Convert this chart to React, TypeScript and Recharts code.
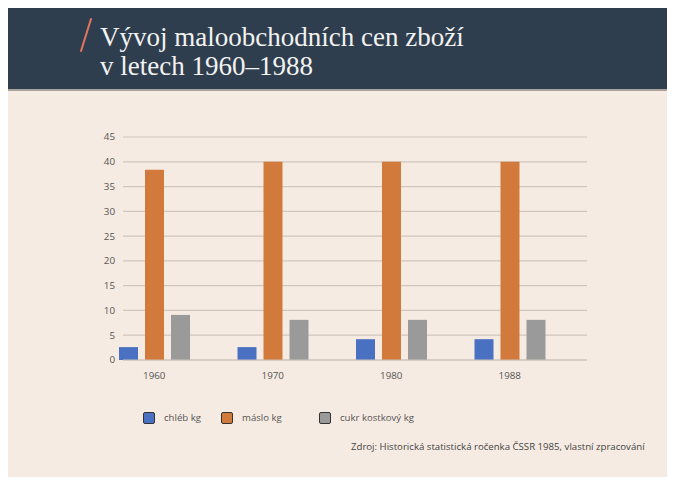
import React from 'react';
import { BarChart, Bar, XAxis, YAxis, CartesianGrid } from 'recharts';

const years = ['1960', '1970', '1980', '1988'];
const chleb = [2.6, 2.6, 4.2, 4.2];
const maslo = [38.4, 40, 40, 40];
const cukr = [9.1, 8.1, 8.1, 8.1];
const yTicks = [0, 5, 10, 15, 20, 25, 30, 35, 40, 45];

const seriesKeys = ['chleb', 'maslo', 'cukr'];
const seriesNames = ['chléb kg', 'máslo kg', 'cukr kostkový kg'];
const seriesColors = ['#4a70c2', '#d27a3c', '#9a9a9a'];

const data = years.map((y, i) => ({ year: y, chleb: chleb[i], maslo: maslo[i], cukr: cukr[i] }));

const titleLine1 = 'Vývoj maloobchodních cen zboží';
const titleLine2 = 'v letech 1960–1988';
const sourceText = 'Zdroj: Historická statistická ročenka ČSSR 1985, vlastní zpracování';

const sans = '"Open Sans", "Noto Sans", sans-serif';
const legendItemWidths = [78, 98, 110];

export default function App() {
  return (
    <div style={{ position: 'relative', width: 667, height: 469, background: '#f6ebe2', overflow: 'hidden' }}>
      <style>{'html,body{overflow:hidden}'}</style>
      <div style={{ position: 'absolute', left: 0, top: 0, width: 667, height: 81, background: '#2f3e4f', borderBottom: '2px solid #a9a39e' }}>
        <svg width={20} height={40} style={{ position: 'absolute', left: 68, top: 9 }}>
          <line x1={15} y1={2} x2={5} y2={34} stroke="#e0745c" strokeWidth={2} strokeLinecap="round" />
        </svg>
        <div style={{ position: 'absolute', left: 92, top: 15, fontFamily: '"Liberation Serif", serif', fontSize: 27, lineHeight: '29px', color: '#f2f2f0' }}>
          <div>{titleLine1}</div>
          <div>{titleLine2}</div>
        </div>
      </div>
      <div style={{ position: 'absolute', left: 0, top: 83 }}>
        <BarChart width={667} height={300} data={data} margin={{ top: 46, right: 88, left: 0, bottom: 0 }} barSize={19} barGap={7}>
          <CartesianGrid vertical={false} stroke="#cfc6bd" strokeWidth={1.2} />
          <XAxis dataKey="year" axisLine={{ stroke: '#cbc2b9' }} tickLine={false} height={31} tickMargin={6}
            padding={{ left: -28, right: 18 }} tick={{ fontFamily: sans, fontSize: 9.8, fill: '#555' }} />
          <YAxis width={115} domain={[0, 45]} ticks={yTicks} axisLine={false} tickLine={false}
            tick={{ fontFamily: sans, fontSize: 9.8, fill: '#555' }} />
          {seriesKeys.map((k, i) => (
            <Bar key={k} dataKey={k} name={seriesNames[i]} fill={seriesColors[i]} isAnimationActive={false} />
          ))}
        </BarChart>
      </div>
      <div style={{ position: 'absolute', left: 135, top: 403, display: 'flex', alignItems: 'center', fontFamily: sans, fontSize: 9.6, color: '#555' }}>
        {seriesNames.map((n, i) => (
          <div key={n} style={{ display: 'flex', alignItems: 'center', width: legendItemWidths[i] }}>
            <div style={{ width: 10, height: 10, background: seriesColors[i], border: '1px solid #333', borderRadius: 2, marginRight: 9 }} />
            <span style={{ whiteSpace: 'nowrap' }}>{n}</span>
          </div>
        ))}
      </div>
      <div style={{ position: 'absolute', left: 343, top: 432, fontFamily: sans, fontSize: 9.65, color: '#444', whiteSpace: 'nowrap' }}>
        {sourceText}
      </div>
    </div>
  );
}
